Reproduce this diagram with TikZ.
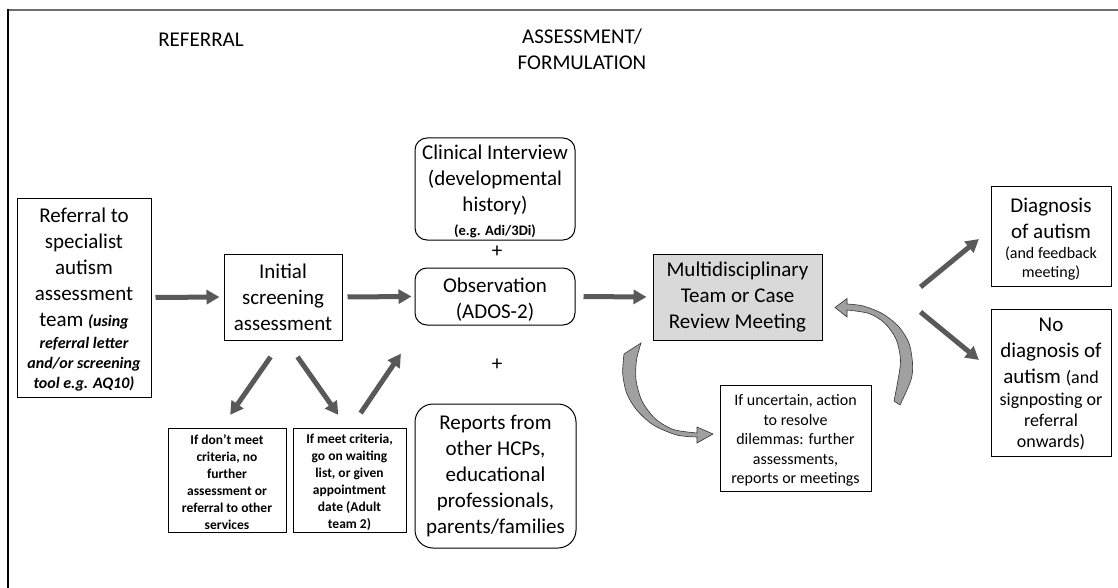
\documentclass[tikz,border=0pt]{standalone}
\usepackage{fontspec}
\setmainfont{Carlito}
\usetikzlibrary{arrows.meta,calc}
\definecolor{arrowgray}{RGB}{89,89,89}
\definecolor{mdtgray}{RGB}{217,217,217}
\definecolor{bandgray}{RGB}{160,160,160}
\definecolor{framegray}{RGB}{110,110,110}
\newcommand\txtL{\fontsize{21}{26}\selectfont}
\newcommand\txtM{\fontsize{16}{19.5}\selectfont}
\newcommand\txtN{\fontsize{18}{21}\selectfont}
\newcommand\txtS{\fontsize{13.5}{17}\selectfont\bfseries}
% invisible strut that lowers a centred text block
\newcommand\topstrut[1]{\rule{0pt}{#1}}
\begin{document}
\begin{tikzpicture}[x=1pt,y=-1pt,
  box/.style={draw=black, line width=1pt, fill=white, align=center, inner sep=0pt, font=\txtL},
  rbox/.style={box, rounded corners=12pt},
  flow/.style={draw=arrowgray, line width=5pt, -{Triangle[length=13pt,width=14pt]}},
  band/.style={fill=bandgray, draw=black!80, line width=0.6pt},
  heading/.style={font=\txtL, inner sep=0pt, align=center},
]
\useasboundingbox (0,0) rectangle (1118,588);
% outer frame (runs off the right and bottom edges)
\draw[framegray, line width=2.5pt] (8,10) -- (1118,10);
\draw[black, line width=2pt] (8,9) -- (8,588);

% column headings
\node[heading] (hRef) at (201,40) {REFERRAL};
\node[heading] (hAss) at (582,49) {ASSESSMENT/\\FORMULATION};

% referral stage
\node[box, minimum width=134pt, minimum height=199pt] (ref) at (84,297.5)
  {\topstrut{19pt}Referral to\\specialist\\autism\\assessment\\team {\txtM\bfseries\itshape (using}\\[-4pt]
   {\txtM\bfseries\itshape referral letter}\\[-6.5pt]
   {\txtM\bfseries\itshape and/or screening}\\[-6pt]
   {\txtM\bfseries\itshape tool e.g. AQ10)}};
\node[box, minimum width=118pt, minimum height=86pt] (init) at (283,297)
  {Initial\\screening\\assessment};
\node[box, font=\txtS, minimum width=118pt, minimum height=104pt] (dno) at (227,480.5)
  {\topstrut{14pt}If don’t meet\\criteria, no\\further\\assessment or\\referral to other\\services};
\node[box, font=\txtS, minimum width=113pt, minimum height=104pt] (dyes) at (349.5,480.5)
  {\topstrut{14pt}If meet criteria,\\go on waiting\\list, or given\\appointment\\date (Adult\\team 2)};

% assessment components
\node[rbox, minimum width=160pt, minimum height=102pt] (clin) at (495,189)
  {\topstrut{19pt}Clinical Interview\\(developmental\\history)\\[-2pt]{\fontsize{14.5}{17}\selectfont\bfseries (e.g. Adi/3Di)}};
\node[font=\txtL, inner sep=0pt] (plusA) at (497,252) {+};
\node[rbox, minimum width=160pt, minimum height=57pt] (obs) at (495,296.5)
  {\topstrut{20pt}Observation\\(ADOS-2)};
\node[font=\txtL, inner sep=0pt] (plusB) at (497,365) {+};
\node[rbox, rounded corners=18pt, minimum width=161pt, minimum height=144pt] (rep) at (495.5,476)
  {Reports from\\other HCPs,\\educational\\professionals,\\parents/families};

% formulation
\node[box, fill=mdtgray, minimum width=169pt, minimum height=86pt] (mdt) at (737.5,297)
  {Multidisciplinary\\Team or Case\\Review Meeting};
\node[box, font=\txtM, minimum width=151pt, minimum height=106pt] (unc) at (795.5,438)
  {\topstrut{16pt}If uncertain, action\\to resolve\\dilemmas: further\\assessments,\\reports or meetings};

% outcomes
\node[box, minimum width=120pt, minimum height=99pt] (diag) at (1051,236.5)
  {\topstrut{20pt}Diagnosis\\of autism\\[-6pt]{\txtM (and feedback}\\[-7pt]{\txtM meeting)}};
\node[box, minimum width=120pt, minimum height=147pt] (nodiag) at (1051,382.5)
  {\topstrut{17pt}No\\diagnosis of\\autism {\txtN (and}\\[-4pt]{\txtN signposting or}\\[-5pt]{\txtN referral}\\[-5pt]{\txtN onwards)}};

% straight flow arrows
\draw[flow, shorten <=4pt, shorten >=4pt] (ref.east) -- (init.west);
\draw[flow, shorten <=5pt, shorten >=3pt] (init.east) -- (obs.west);
\draw[flow, shorten <=8pt, shorten >=6pt] (obs.east) -- (mdt.west);
\draw[flow, shorten <=20pt, shorten >=16pt] ($(init.south)+(-1,0)$) -- ($(dno.north)+(-6,0)$);
\draw[flow, shorten <=20pt, shorten >=16pt] ($(init.south)+(3,0)$) -- ($(dyes.north)+(-2,0)$);
\draw[flow, shorten <=18pt, shorten >=34pt] ($(dyes.north)+(1,0)$) -- ($(obs.south west)+(5.5,0)$);
\coordinate (fkA) at ($(mdt.east)+(98,-10)$);
\coordinate (fkB) at ($(mdt.east)+(98,15)$);
\draw[flow, shorten >=15pt] (fkA) -- ($(diag.west)+(0,-7)$);
\draw[flow, shorten >=15pt] (fkB) -- ($(nodiag.west)+(0,-13)$);

% curved loop: meeting -> further action
\filldraw[band] plot[smooth] coordinates {(624,354) (622.7,373.3) (626.7,393.3) (636.7,410) (653.3,425) (676.7,435) (697,437)}
  -- (697,443) -- (713,434) -- (697,427) -- (697,433)
  -- plot[smooth] coordinates {(697,433) (673.3,429.5) (655,418.5) (642,401) (636,380) (636.5,360) (641,343)}
  -- cycle;
% curved loop: further action -> meeting
\filldraw[band] plot[smooth] coordinates {(900,405) (911,380) (912.5,363.3) (909,343.3) (899,327) (883,314) (863.3,306) (847,304)}
  -- (847,298.5) -- (835,307.5) -- (847,317) -- (847,310)
  -- plot[smooth] coordinates {(847,310) (869,313.5) (884.5,323) (896,339) (900.5,360) (898,380) (894,401)}
  -- cycle;
\end{tikzpicture}
\end{document}
